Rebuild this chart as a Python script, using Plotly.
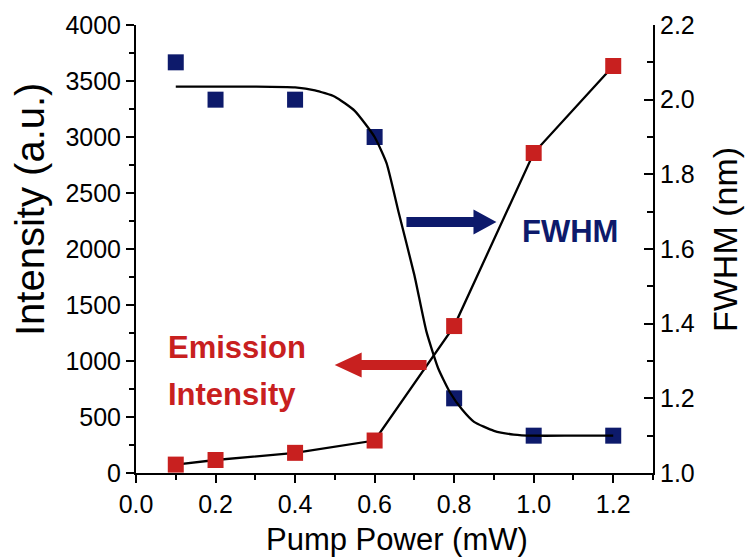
import plotly.graph_objects as go

# ---- data ----
pump_power = [0.1, 0.2, 0.4, 0.6, 0.8, 1.0, 1.2]
emission_intensity = [75, 116, 180, 290, 1312, 2857, 3634]
fwhm = [2.10, 2.00, 2.00, 1.90, 1.20, 1.10, 1.10]

fit_x = [0.1, 0.2, 0.3, 0.4, 0.45, 0.5, 0.55, 0.6, 0.63, 0.66, 0.70, 0.73,
         0.76, 0.79, 0.82, 0.85, 0.9, 0.95, 1.0, 1.1, 1.2]
fit_fwhm = [2.035, 2.035, 2.035, 2.033, 2.025, 2.008, 1.97, 1.90, 1.83, 1.70,
            1.53, 1.38, 1.28, 1.215, 1.17, 1.137, 1.113, 1.103, 1.10, 1.10, 1.10]

x_ticks = [0.0, 0.2, 0.4, 0.6, 0.8, 1.0, 1.2]
x_ticklabels = ["0.0", "0.2", "0.4", "0.6", "0.8", "1.0", "1.2"]
y_ticks = [0, 500, 1000, 1500, 2000, 2500, 3000, 3500, 4000]
y2_ticks = [1.0, 1.2, 1.4, 1.6, 1.8, 2.0, 2.2]
y2_ticklabels = ["1.0", "1.2", "1.4", "1.6", "1.8", "2.0", "2.2"]

RED = "#c8201f"
BLUE = "#0d1a6b"
FONT = "Arial, Liberation Sans, sans-serif"

fig = go.Figure()
fig.add_trace(go.Scatter(
    x=pump_power, y=emission_intensity, mode="lines+markers",
    line=dict(color="black", width=2.3),
    marker=dict(symbol="square", size=16, color=RED, line=dict(width=0)),
    yaxis="y", showlegend=False))
fig.add_trace(go.Scatter(
    x=pump_power, y=fwhm, mode="markers",
    marker=dict(symbol="square", size=16, color=BLUE, line=dict(width=0)),
    yaxis="y2", showlegend=False))
fig.add_trace(go.Scatter(
    x=fit_x, y=fit_fwhm, mode="lines",
    line=dict(color="black", width=2.3, shape="spline", smoothing=0.5),
    yaxis="y2", showlegend=False))

axis_common = dict(showline=True, linecolor="black", linewidth=2,
                   showgrid=False, zeroline=False, ticks="outside",
                   tickcolor="black", tickwidth=2, ticklen=8,
                   tickfont=dict(family=FONT, size=25, color="black"))

fig.update_layout(
    width=748, height=558,
    margin=dict(l=136, r=95, t=25, b=85),
    paper_bgcolor="white", plot_bgcolor="white",
    font=dict(family=FONT, color="black"),
    xaxis=dict(range=[0, 1.3], tickvals=x_ticks, ticktext=x_ticklabels,
               minor=dict(dtick=0.1, tick0=0, ticklen=5, tickwidth=2,
                          tickcolor="black", ticks="outside", showgrid=False),
               **axis_common),
    yaxis=dict(range=[0, 4000], tickvals=y_ticks,
               minor=dict(dtick=250, tick0=0, ticklen=5, tickwidth=2,
                          tickcolor="black", ticks="outside", showgrid=False),
               **axis_common),
    yaxis2=dict(range=[1.0, 2.2], tickvals=y2_ticks, ticktext=y2_ticklabels,
                overlaying="y", side="right", anchor="x",
                showline=True, linecolor="black", linewidth=2,
                showgrid=False, zeroline=False, ticks="inside",
                tickcolor="black", tickwidth=2, ticklen=9,
                tickfont=dict(family=FONT, size=25, color="black"),
                minor=dict(dtick=0.1, tick0=1.0, ticklen=6, tickwidth=2,
                           tickcolor="black", ticks="inside", showgrid=False)),
)

# arrows (decorations)
blue_arrow = ("M 0.680 2196 L 0.8486 2196 L 0.8486 2129 L 0.9063 2241 "
              "L 0.8486 2353 L 0.8486 2286 L 0.680 2286 Z")
red_arrow = ("M 0.7306 920 L 0.5674 920 L 0.5674 852 L 0.4996 964 "
             "L 0.5674 1076 L 0.5674 1009 L 0.7306 1009 Z")
fig.add_shape(type="path", path=blue_arrow, xref="x", yref="y",
              fillcolor=BLUE, line=dict(width=0))
fig.add_shape(type="path", path=red_arrow, xref="x", yref="y",
              fillcolor=RED, line=dict(width=0))

# text labels
fig.add_annotation(text="<b>FWHM</b>", xref="paper", yref="paper",
                   x=(570 - 136) / 517, y=(473 - 231) / 448,
                   xanchor="center", yanchor="middle", showarrow=False,
                   font=dict(family=FONT, size=31, color=BLUE))
fig.add_annotation(text="<b>Emission</b>", xref="paper", yref="paper",
                   x=(166 - 136) / 517, y=(473 - 347) / 448,
                   xanchor="left", yanchor="middle", showarrow=False,
                   font=dict(family=FONT, size=31, color=RED))
fig.add_annotation(text="<b>Intensity</b>", xref="paper", yref="paper",
                   x=(166 - 136) / 517, y=(473 - 394) / 448,
                   xanchor="left", yanchor="middle", showarrow=False,
                   font=dict(family=FONT, size=31, color=RED))

# axis titles
fig.add_annotation(text="Intensity (a.u.)", xref="paper", yref="paper",
                   x=(30 - 136) / 517, y=(473 - 210) / 448, textangle=-90,
                   xanchor="center", yanchor="middle", showarrow=False,
                   font=dict(family=FONT, size=40, color="black"))
fig.add_annotation(text="FWHM (nm)", xref="paper", yref="paper",
                   x=(725 - 136) / 517, y=(473 - 240) / 448, textangle=-90,
                   xanchor="center", yanchor="middle", showarrow=False,
                   font=dict(family=FONT, size=34, color="black"))
fig.add_annotation(text="Pump Power (mW)", xref="paper", yref="paper",
                   x=(397 - 136) / 517, y=(473 - 539) / 448,
                   xanchor="center", yanchor="middle", showarrow=False,
                   borderpad=0,
                   font=dict(family=FONT, size=31, color="black"))

fig.write_html("out.html")
